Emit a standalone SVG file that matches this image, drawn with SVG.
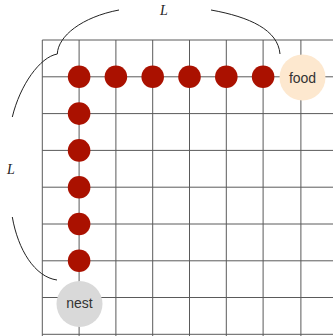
<svg xmlns="http://www.w3.org/2000/svg" width="333" height="336" viewBox="0 0 333 336">
<style>
.grid line{stroke:#5a5a5a;stroke-width:1}
.dot{fill:#aa1100}
.brace{fill:none;stroke:#222;stroke-width:1}
.lbl{font-family:"Liberation Sans",Arial,sans-serif;font-size:14px;fill:#333;text-anchor:middle}
.L{font-family:"Liberation Serif","Times New Roman",serif;font-style:italic;font-size:14px;fill:#222;text-anchor:middle}
</style>
<rect width="333" height="336" fill="#fff"/>
<g id="grid" class="grid">
<line x1="42.3" y1="40" x2="42.3" y2="336"/>
<line x1="79.1" y1="40" x2="79.1" y2="336"/>
<line x1="115.9" y1="40" x2="115.9" y2="336"/>
<line x1="152.7" y1="40" x2="152.7" y2="336"/>
<line x1="189.5" y1="40" x2="189.5" y2="336"/>
<line x1="226.3" y1="40" x2="226.3" y2="336"/>
<line x1="263.1" y1="40" x2="263.1" y2="336"/>
<line x1="300.9" y1="40" x2="300.9" y2="336"/>
<line x1="42.3" y1="40" x2="333" y2="40"/>
<line x1="42.3" y1="76.8" x2="333" y2="76.8"/>
<line x1="42.3" y1="113.6" x2="333" y2="113.6"/>
<line x1="42.3" y1="150.4" x2="333" y2="150.4"/>
<line x1="42.3" y1="187.2" x2="333" y2="187.2"/>
<line x1="42.3" y1="224" x2="333" y2="224"/>
<line x1="42.3" y1="260.8" x2="333" y2="260.8"/>
<line x1="42.3" y1="297.5" x2="333" y2="297.5"/>
<line x1="42.3" y1="334.3" x2="333" y2="334.3"/>
</g>
<g id="braces" class="brace">
<path d="M57.3,54 C58,36 82,17 119,10"/>
<path d="M211,10 C250,17 278,30 280,54"/>
<path d="M57.3,54 C40,57 20,85 12.3,117"/>
<path d="M12.3,217 C18,250 35,277 57,280"/>
</g>
<g id="labels">
<text class="L" x="164" y="15">L</text>
<text class="L" x="11" y="174">L</text>
</g>
<g id="path-dots">
<circle class="dot" cx="79.1" cy="76.8" r="11.3"/>
<circle class="dot" cx="115.9" cy="76.8" r="11.3"/>
<circle class="dot" cx="152.7" cy="76.8" r="11.3"/>
<circle class="dot" cx="189.5" cy="76.8" r="11.3"/>
<circle class="dot" cx="226.3" cy="76.8" r="11.3"/>
<circle class="dot" cx="263.1" cy="76.8" r="11.3"/>
<circle class="dot" cx="79.1" cy="113.6" r="11.3"/>
<circle class="dot" cx="79.1" cy="150.4" r="11.3"/>
<circle class="dot" cx="79.1" cy="187.2" r="11.3"/>
<circle class="dot" cx="79.1" cy="224" r="11.3"/>
<circle class="dot" cx="79.1" cy="260.8" r="11.3"/>
</g>
<g id="food">
<circle cx="302.5" cy="77.5" r="23" fill="#fde8cf"/>
<text class="lbl" x="302.5" y="83">food</text>
</g>
<g id="nest">
<circle cx="79.5" cy="304" r="23" fill="#d9d9d9"/>
<text class="lbl" x="79.5" y="308">nest</text>
</g>
</svg>
